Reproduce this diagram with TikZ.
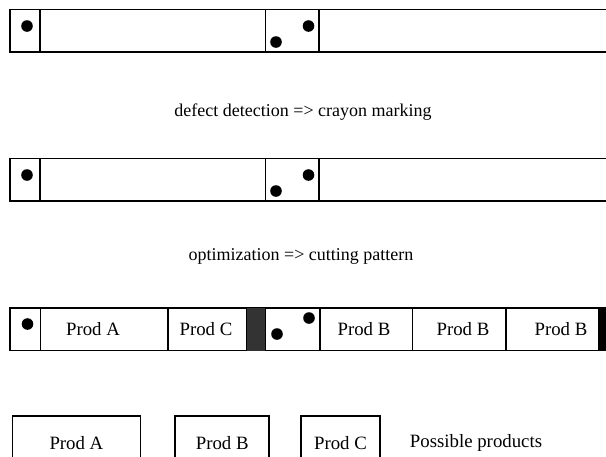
\documentclass[tikz,border=0pt]{standalone}
\usepackage{fontspec}
\setmainfont{Liberation Serif}
\usetikzlibrary{positioning}

\begin{document}
\begin{tikzpicture}[x=0.5pt,y=-0.5pt,
    font=\fontsize{9.4}{11}\selectfont,
    strip/.style={line width=0.9pt},
    divider/.style={line width=0.6pt},
    defect/.style={fill=black},
    caption/.style={font=\fontsize{9}{11}\selectfont},
    prodbox/.style={draw,line width=0.9pt,inner sep=0pt,minimum height=27.5pt}]
  \clip (0,0) rectangle (606,456);

  % Define the two boards before cutting (raw and marked)
  \foreach \ya/\yb in {9.5/52, 158.5/201}{
    \draw[strip] (606,\ya) -| (10,\yb) -- (606,\yb);
    \draw[divider] (40,\ya) -- (40,\yb) (265.5,\ya) -- (265.5,\yb) (319,\ya) -- (319,\yb);
    \fill[defect] (27,\ya+16.5) circle[radius=2.9pt];
    \fill[defect] (276,\ya+32.5) circle[radius=2.9pt];
    \fill[defect] (308.5,\ya+16.5) circle[radius=2.9pt];
  }

  % Define the captions between the boards
  \node[caption] (detect) at (303,112) {defect detection => crayon marking};
  \node[caption] (optim) at (301,256) {optimization => cutting pattern};

  % Draw the board after cutting
  \draw[strip] (606,308) -| (10,350.5) -- (606,350.5);
  \fill[black!80] (246.5,308) rectangle (265.5,350.5);
  \fill[black] (599,308) rectangle (606,350.5);
  \foreach \x in {40.5,168,246.5,265.5,320,412.5,506,599}
    \draw[divider] (\x,308) -- (\x,350.5);
  \fill[defect] (27.5,324) circle[radius=2.9pt];
  \fill[defect] (277,334) circle[radius=2.9pt];
  \fill[defect] (309,318) circle[radius=2.9pt];

  \node (cutA) at (93,329) {Prod A};
  \node (cutC) at (206,329) {Prod C};
  \node (cutB1) at (364,329) {Prod B};
  \node (cutB2) at (463,329) {Prod B};
  \node (cutB3) at (561,329) {Prod B};

  % Define the possible products
  \node[prodbox,minimum width=64pt,anchor=north west] (prodA) at (11.5,415) {Prod A};
  \node[prodbox,minimum width=47pt,right=16.5pt of prodA] (prodB) {Prod B};
  \node[prodbox,minimum width=39.5pt,right=15pt of prodB] (prodC) {Prod C};
  \node[right=11pt of prodC] (possible) {Possible products};

\end{tikzpicture}
\end{document}
